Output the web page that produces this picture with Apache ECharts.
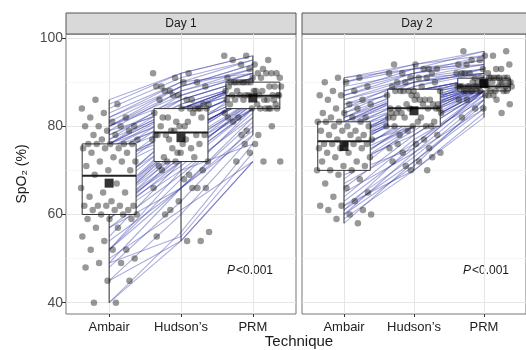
<!DOCTYPE html>
<html>
<head>
<meta charset="utf-8">
<script src="https://cdn.jsdelivr.net/npm/echarts@6/dist/echarts.min.js"></script>
<style>html,body{margin:0;padding:0;background:#fff}#chart{width:526px;height:350px}</style>
</head>
<body>
<div id="chart"></div>
<script>
// categories
var techniques = ['Ambair', 'Hudson’s', 'PRM'];
var days = ['Day 1', 'Day 2'];
var yTicks = [40, 60, 80, 100];
var yMinor = [50, 70, 90];
var pText = '<0.001';

// Day 1, one value per subject (same order in all three)
var day1Ambair = [40,40,45,45,48,49,49,50,52,52, 52,54,55,57,57,59,59,59,60,60, 60,61,61,61,62,62,62,62,62,63, 64,65,65,66,67,69,70,70,71,72, 72,72,73,74,74,75,75,75,76,76, 76,76,76,77,77,78,78,79,79,80, 80,80,80,81,82,82,83,84,85,86];
var day1Hudson = [56,54,60,54,63,55,66,61,66,68, 70,66,72,66,69,72,70,74,71,73, 75,72,77,73,76,74,78,75,77,78, 76,80,78,79,77,81,78,82,80,78, 83,79,84,80,82,84,81,83,84,82, 85,84,86,84,87,85,86,88,84,87, 89,86,88,89,90,89,90,91,92,92];
var day1PRM = [76,72,78,72,80,74,82,72,78,84, 76,81,84,79,83,84,82,86,84,85, 84,86,87,85,86,84,87,86,88,87, 85,88,87,86,87,89,87,88,87,90, 89,86,90,87,88,90,89,90,88,91, 90,89,91,90,92,90,91,92,90,92, 93,91,93,94,92,94,95,95,96,96];

// Day 2
var day2Ambair = [58,59,60,60,61,61,62,62,63,64, 65,66,67,68,69,70,70,70,71,71, 72,72,73,73,74,74,75,75,75,76, 76,76,76,76,77,77,77,78,78,78, 79,79,79,80,80,80,81,81,81,81, 82,82,82,83,83,84,84,85,85,86, 86,87,87,88,88,89,90,90,91,91];
var day2Hudson = [72,70,71,74,72,76,73,70,75,77, 74,78,76,80,75,79,80,82,78,81, 80,83,80,82,84,81,83,80,84,82, 85,83,84,86,82,84,85,83,86,84, 85,87,84,86,88,85,87,88,86,88, 87,89,88,90,88,89,91,90,88,91, 90,92,91,92,93,92,93,94,94,93];
var day2PRM = [84,82,86,84,85,87,86,83,88,86, 87,88,88,87,88,89,88,89,88,89, 88,90,89,88,89,90,89,88,90,89, 89,90,88,89,90,89,91,89,90,91, 89,90,91,89,91,90,91,90,92,91, 90,92,91,92,91,93,92,93,91,94, 92,94,93,95,94,96,95,97,96,97];

// 箱线 [下须, Q1, 中位数, Q3, 上须]
var day1Box = [[40,60,68.8,76,86],[54,72,78.6,84,92],[78,84,86.9,90,96]];
var day2Box = [[58,70,76.6,81,91],[70,80,84.1,88.4,94],[82,88,89,90.9,97]];
var day1Mean = [67.1, 77.4, 86.4];
var day2Mean = [75.4, 83.5, 89.7];

var dayData = [
  [day1Ambair, day1Hudson, day1PRM],
  [day2Ambair, day2Hudson, day2PRM]
];
var dayBox = [day1Box, day2Box];
var dayMean = [day1Mean, day2Mean];

// 抖动 (horizontal jitter, deterministic)
function jitter(i, k, d) {
  var f = ((i + 1) * 0.6180339887 + k * 0.37 + d * 0.13) % 1;
  return (f - 0.5) * 0.8;
}

function renderBox(params, api) {
  var x = api.value(0);
  var lo = api.coord([x, api.value(1)]);
  var q1 = api.coord([x, api.value(2)]);
  var med = api.coord([x, api.value(3)]);
  var q3 = api.coord([x, api.value(4)]);
  var hi = api.coord([x, api.value(5)]);
  var half = api.size([0.375, 0])[0];
  var st = {stroke: '#333', lineWidth: 1, fill: null};
  return {type: 'group', children: [
    {type: 'line', shape: {x1: lo[0], y1: lo[1], x2: q1[0], y2: q1[1]}, style: st},
    {type: 'line', shape: {x1: q3[0], y1: q3[1], x2: hi[0], y2: hi[1]}, style: st},
    {type: 'rect', shape: {x: q1[0] - half, y: q3[1], width: half * 2, height: q1[1] - q3[1]},
      style: {fill: '#fff', stroke: '#333', lineWidth: 1}},
    {type: 'line', shape: {x1: med[0] - half, y1: med[1], x2: med[0] + half, y2: med[1]},
      style: {stroke: '#222', lineWidth: 2}}
  ]};
}

var grids = [], xAxes = [], yAxes = [], series = [], graphics = [];
var panelLeft = [66, 302];

days.forEach(function (day, d) {
  grids.push({left: panelLeft[d], top: 34, width: 230, height: 280, show: true,
    borderColor: '#777', borderWidth: 1, backgroundColor: '#fff'});
  xAxes.push({gridIndex: d, type: 'value', min: 0.4, max: 3.6,
    axisLine: {show: false}, splitLine: {show: false},
    axisTick: {show: true, length: 3, customValues: [1, 2, 3], lineStyle: {color: '#333'}},
    axisLabel: {customValues: [1, 2, 3], margin: 7, fontSize: 13, color: '#222',
      fontFamily: 'Liberation Sans',
      formatter: function (v) { return techniques[Math.round(v) - 1]; }}
  });
  yAxes.push({gridIndex: d, type: 'value', min: 37.44, max: 100.91,
    axisLine: {show: false}, splitLine: {show: false},
    axisTick: {show: d === 0, length: 4, customValues: yTicks, lineStyle: {color: '#333'}},
    axisLabel: {show: d === 0, customValues: yTicks, margin: 3, fontSize: 14, color: '#4d4d4d',
      fontFamily: 'Liberation Sans'}
  });

  // grid lines
  var ml = [];
  [1, 2, 3].forEach(function (v) { ml.push({xAxis: v, lineStyle: {color: '#e6e6e6', width: 1, type: 'solid'}}); });
  yTicks.forEach(function (v) { ml.push({yAxis: v, lineStyle: {color: '#e6e6e6', width: 1, type: 'solid'}}); });
  yMinor.forEach(function (v) { ml.push({yAxis: v, lineStyle: {color: '#f2f2f2', width: 0.6, type: 'solid'}}); });
  series.push({type: 'scatter', xAxisIndex: d, yAxisIndex: d, z: 0, silent: true,
    data: [[1, 40]], symbolSize: 0,
    markLine: {z: 0, silent: true, symbol: ['none', 'none'], label: {show: false}, animation: false, data: ml}});

  // paired lines
  var a = dayData[d][0], h = dayData[d][1], p = dayData[d][2];
  var lineData = a.map(function (v, i) {
    return {coords: [[1, a[i]], [2, h[i]], [3, p[i]]]};
  });
  series.push({type: 'lines', coordinateSystem: 'cartesian2d', xAxisIndex: d, yAxisIndex: d,
    polyline: true, z: 1, silent: true, data: lineData,
    lineStyle: {color: 'rgba(48,52,165,0.8)', width: 1.1}});

  // boxes
  series.push({type: 'custom', xAxisIndex: d, yAxisIndex: d, z: 2, silent: true,
    renderItem: renderBox,
    data: dayBox[d].map(function (b, k) { return [k + 1].concat(b); })});

  // jittered points
  var pts = [];
  dayData[d].forEach(function (arr, k) {
    arr.forEach(function (v, i) { pts.push([k + 1 + jitter(i, k, d), v]); });
  });
  series.push({type: 'scatter', xAxisIndex: d, yAxisIndex: d, z: 3, silent: true,
    data: pts, symbolSize: 6.5, itemStyle: {color: 'rgba(20,20,20,0.55)', borderWidth: 0}});

  // means
  series.push({type: 'scatter', xAxisIndex: d, yAxisIndex: d, z: 4, silent: true,
    data: dayMean[d].map(function (m, k) { return [k + 1, m]; }),
    symbol: 'rect', symbolSize: 9, itemStyle: {color: '#000', borderWidth: 0}});

  // strip
  graphics.push({type: 'rect', shape: {x: panelLeft[d], y: 13, width: 230, height: 21},
    style: {fill: '#d9d9d9', stroke: '#555', lineWidth: 1}});
  graphics.push({type: 'text', x: panelLeft[d] + 115, y: 24,
    style: {text: day, fill: '#1a1a1a', font: '12px "Liberation Sans"', align: 'center', verticalAlign: 'middle'}});
  // P value
  graphics.push({type: 'text', x: panelLeft[d] + 184, y: 271,
    style: {text: '{i|P}' + pText, fill: '#1a1a1a', font: '12px "Liberation Sans"',
      align: 'center', verticalAlign: 'middle',
      rich: {i: {fontStyle: 'italic', fontSize: 12, fontFamily: 'Liberation Sans', fill: '#1a1a1a',
        padding: [0, 1, 0, 0]}}}});
});

graphics.push({type: 'text', x: 22, y: 174, rotation: Math.PI / 2,
  style: {text: 'SpO₂ (%)', fill: '#1a1a1a', font: '14px "Liberation Sans"', align: 'center', verticalAlign: 'middle'}});
graphics.push({type: 'text', x: 299, y: 342,
  style: {text: 'Technique', fill: '#1a1a1a', font: '15px "Liberation Sans"', align: 'center', verticalAlign: 'middle'}});

var chart = echarts.init(document.getElementById('chart'), null, {renderer: 'canvas'});
chart.setOption({
  animation: false,
  grid: grids,
  xAxis: xAxes,
  yAxis: yAxes,
  series: series,
  graphic: graphics
});
</script>
</body>
</html>
